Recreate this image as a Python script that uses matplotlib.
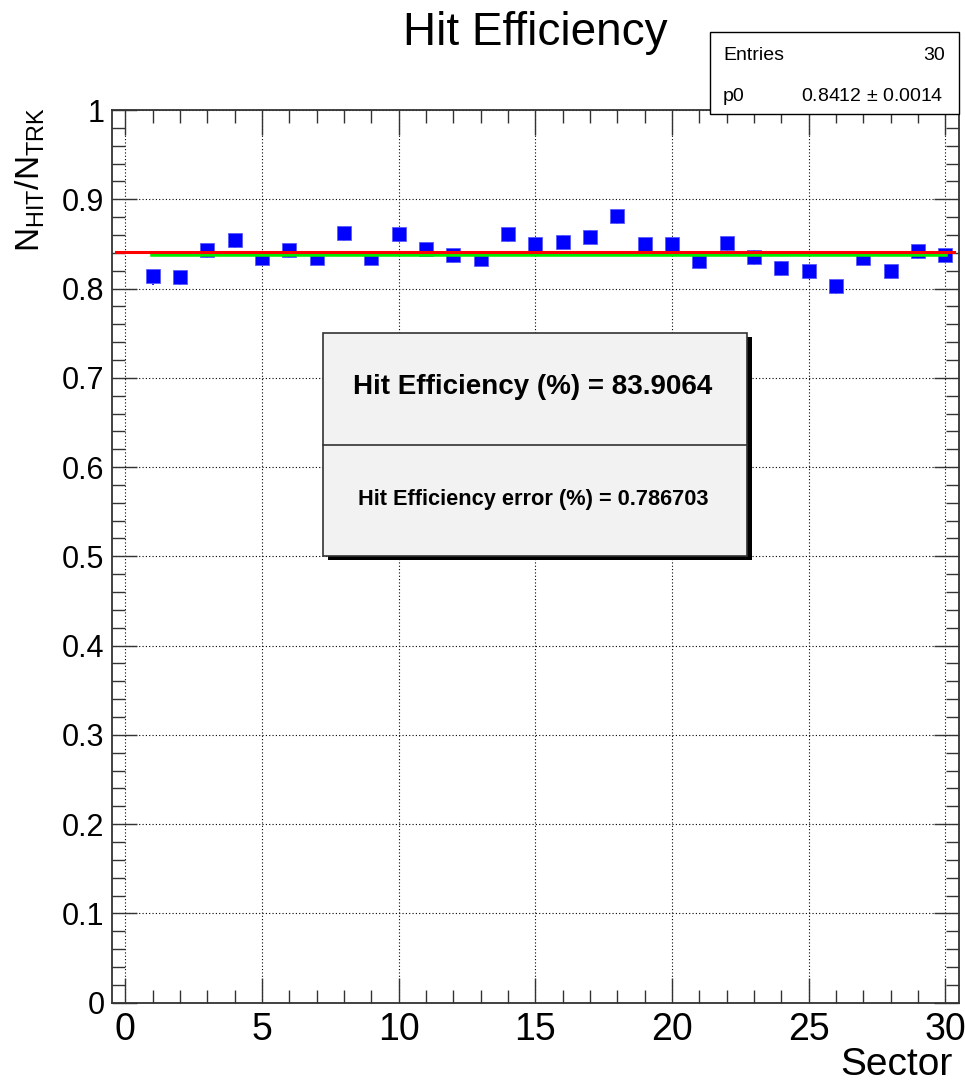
import matplotlib
matplotlib.use("Agg")
import matplotlib.pyplot as plt
from matplotlib.patches import Rectangle
from matplotlib.ticker import MultipleLocator
import numpy as np

plt.rcParams['font.family'] = ['Liberation Sans', 'DejaVu Sans']
plt.rcParams['mathtext.default'] = 'regular'

# data
sector = list(range(1, 31))
eff = [0.8138, 0.8130, 0.8429, 0.8540, 0.8347, 0.8429, 0.8347, 0.8623, 0.8347, 0.8608,
       0.8443, 0.8373, 0.8332, 0.8608, 0.8496, 0.8526, 0.8582, 0.8813, 0.8500, 0.8500,
       0.8313, 0.8510, 0.8358, 0.8235, 0.8197, 0.8029, 0.8347, 0.8197, 0.8421, 0.8376]
err_lo = [0.0095, 0.0085, 0.0085, 0.0085, 0.0085, 0.0085, 0.0085, 0.0085, 0.0085, 0.0085,
          0.0085, 0.0085, 0.0085, 0.0085, 0.0085, 0.0085, 0.0085, 0.0085, 0.0085, 0.0085,
          0.0090, 0.0085, 0.0090, 0.0090, 0.0090, 0.0090, 0.0085, 0.0085, 0.0085, 0.0085]
err_hi = [0.0070] * 30
fit_p0 = 0.8412
fit_p0_err = 0.0014
fit_range = [-0.33, 30.3]
mean_eff = 0.839064
mean_err = 0.786703
n_entries = 30

W, H = 965, 1081
fig = plt.figure(figsize=(W / 100, H / 100), dpi=100)
ax = fig.add_axes([111.5 / W, 1 - 1002.7 / H, (959 - 111.5) / W, (1002.7 - 110) / H])

ax.errorbar(sector, eff, yerr=[err_lo, err_hi], fmt='s', color='#0000ff', ms=10.2,
            mec='#5a5aff', mew=0.6, elinewidth=1.2, capsize=0, zorder=3)
ax.plot(fit_range, [fit_p0, fit_p0], color='#ff0000', lw=2.2, zorder=4)
ax.plot([sector[0], sector[-1]], [mean_eff, mean_eff], color='#00ee00', lw=4, zorder=3.5)

ax.set_xlim(-0.5, 30.5)
ax.set_ylim(0, 1)
ax.xaxis.set_major_locator(MultipleLocator(5))
ax.xaxis.set_minor_locator(MultipleLocator(1))
ax.yaxis.set_major_locator(MultipleLocator(0.1))
ax.yaxis.set_minor_locator(MultipleLocator(0.02))
ax.set_yticks(np.arange(0, 1.01, 0.1))
ax.set_yticklabels(['0', '0.1', '0.2', '0.3', '0.4', '0.5', '0.6', '0.7', '0.8', '0.9', '1'])
ax.tick_params(which='both', direction='in', top=True, right=True, color='#333333', width=1)
ax.tick_params(which='major', length=18)
ax.tick_params(which='minor', length=9.5)
ax.tick_params(axis='y', labelsize=22, pad=5)
ax.tick_params(axis='x', labelsize=27, pad=7)
ax.grid(True, which='major', color='black', ls=(0, (1, 2)), lw=0.8)
for s in ax.spines.values():
    s.set_color('#333333')
    s.set_linewidth(1.3)

fig.text(535 / W, 1 - 45 / H, 'Hit Efficiency', fontsize=33, ha='center', va='baseline')
fig.text(953 / W, 1 - 1075 / H, 'Sector', fontsize=28, ha='right', va='baseline')
fig.text(30 / W, 1 - 107 / H, r'$N_{HIT}/N_{TRK}$', fontsize=24, rotation=90,
         ha='center', va='top')

# stats box
fig.patches.append(Rectangle((710 / W, 1 - 114 / H), (959 - 710) / W, (114 - 32) / H,
                             transform=fig.transFigure, fc='white', ec='black', lw=1, zorder=5))
fig.text(723 / W, 1 - 60 / H, 'Entries', fontsize=14, va='baseline', zorder=6)
fig.text(945 / W, 1 - 60 / H, str(n_entries), fontsize=14, ha='right', va='baseline', zorder=6)
fig.text(723 / W, 1 - 101 / H, 'p0', fontsize=14, va='baseline', zorder=6)
fig.text(943 / W, 1 - 101 / H, f'{fit_p0:.4f} $\\pm$ {fit_p0_err:.4f}', fontsize=14,
         ha='right', va='baseline', zorder=6)

# efficiency text box with shadow
bx0, by0, bx1, by1 = 323, 333, 747, 556
fig.patches.append(Rectangle(((bx0 + 5) / W, 1 - (by1 + 4) / H), (bx1 - bx0) / W, (by1 - by0) / H,
                             transform=fig.transFigure, fc='black', ec='black', lw=0, zorder=5))
fig.patches.append(Rectangle((bx0 / W, 1 - by1 / H), (bx1 - bx0) / W, (by1 - by0) / H,
                             transform=fig.transFigure, fc='#f2f2f2', ec='#333333', lw=1.2, zorder=5.5))
fig.lines.append(plt.Line2D([bx0 / W, bx1 / W], [1 - 445 / H, 1 - 445 / H],
                            transform=fig.transFigure, color='#333333', lw=1.2, zorder=6))
fig.text(533 / W, 1 - 387 / H, f'Hit Efficiency (%) = {mean_eff * 100:.4f}', fontsize=20,
         weight='bold', ha='center', va='center', zorder=7)
fig.text(533 / W, 1 - 500 / H, f'Hit Efficiency error (%) = {mean_err:g}', fontsize=15.7,
         weight='bold', ha='center', va='center', zorder=7)

fig.savefig('out.png', dpi=100)
